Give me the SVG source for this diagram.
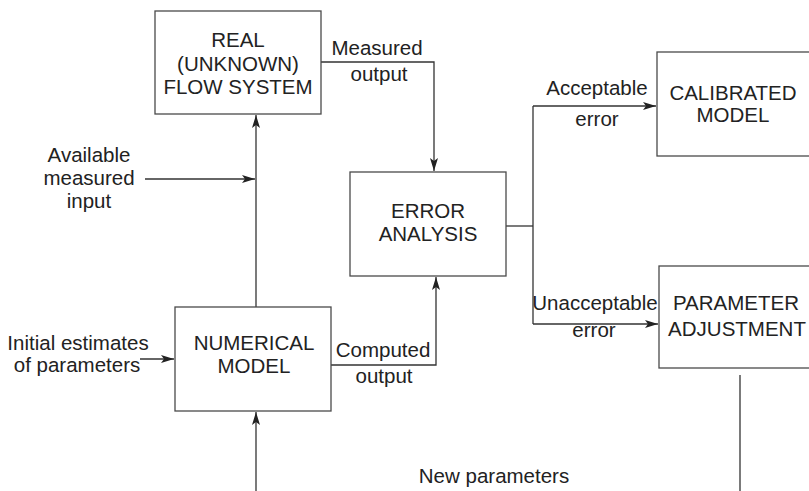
<svg xmlns="http://www.w3.org/2000/svg" width="809" height="491" viewBox="0 0 809 491">
<style>
.box{fill:#fff;stroke:#4a4a4a;stroke-width:1.3}
.ln{fill:none;stroke:#333;stroke-width:1.3}
text{font-family:"Liberation Sans",Arial,sans-serif;font-size:20.5px;fill:#222;text-anchor:middle}
</style>
<defs>
<marker id="ah" markerWidth="14" markerHeight="8" refX="13" refY="4" orient="auto" markerUnits="userSpaceOnUse">
<path d="M0,0 L13,4 L0,8 L3,4 Z" fill="#222"/>
</marker>
</defs>
<g id="connectors">
<path class="ln" d="M321,62 H434 V171" marker-end="url(#ah)"/>
<path class="ln" d="M256,307 V115" marker-end="url(#ah)"/>
<path class="ln" d="M145,179 H255" marker-end="url(#ah)"/>
<path class="ln" d="M140,359 H174" marker-end="url(#ah)"/>
<path class="ln" d="M331,365 H436 V277" marker-end="url(#ah)"/>
<path class="ln" d="M506,226 H533"/>
<path class="ln" d="M533,106 V324"/>
<path class="ln" d="M533,106 H656" marker-end="url(#ah)"/>
<path class="ln" d="M533,324 H658" marker-end="url(#ah)"/>
<path class="ln" d="M256,491 V412" marker-end="url(#ah)"/>
<path class="ln" d="M740,375 V491"/>
</g>
<g id="real">
<rect class="box" x="155" y="11" width="166" height="103"/>
<text x="238" y="47">REAL</text>
<text x="238" y="71">(UNKNOWN)</text>
<text x="238" y="94">FLOW SYSTEM</text>
</g>
<g id="error">
<rect class="box" x="350" y="172" width="156" height="104"/>
<text x="428" y="218">ERROR</text>
<text x="428" y="241">ANALYSIS</text>
</g>
<g id="numerical">
<rect class="box" x="175" y="307" width="156" height="104"/>
<text x="254" y="350">NUMERICAL</text>
<text x="254" y="373">MODEL</text>
</g>
<g id="calibrated">
<rect class="box" x="657" y="52" width="160" height="104"/>
<text x="733" y="100">CALIBRATED</text>
<text x="733" y="122">MODEL</text>
</g>
<g id="adjust">
<rect class="box" x="659" y="266" width="160" height="102"/>
<text x="736" y="310">PARAMETER</text>
<text x="737" y="336">ADJUSTMENT</text>
</g>
<g id="labels">
<text x="377" y="55">Measured</text>
<text x="379" y="81">output</text>
<text x="89" y="162">Available</text>
<text x="89" y="185">measured</text>
<text x="89" y="208">input</text>
<text x="597" y="95">Acceptable</text>
<text x="597" y="126">error</text>
<text x="595" y="310">Unacceptable</text>
<text x="594" y="337">error</text>
<text x="78" y="350">Initial estimates</text>
<text x="77" y="372">of parameters</text>
<text x="383" y="357">Computed</text>
<text x="384" y="383">output</text>
<text x="494" y="483">New parameters</text>
</g>
</svg>
